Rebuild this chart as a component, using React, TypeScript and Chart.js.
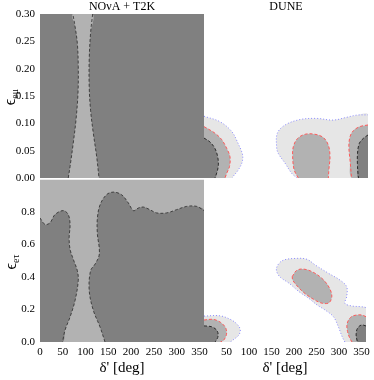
import React, { useEffect, useRef } from "react";
import { Chart, registerables } from "chart.js";

Chart.register(...registerables);

type P = [number, number];

// ---------- axes ----------
const DELTA_MIN = 0;
const DELTA_MAX = 360;
const EMU_MAX = 0.3;
const ETAU_MAX = 1.0;
const X_TICKS_LEFT = [0, 50, 100, 150, 200, 250, 300, 350];
const X_TICKS_RIGHT = [50, 100, 150, 200, 250, 300, 350];
const Y_TICKS_EMU = [0, 0.05, 0.1, 0.15, 0.2, 0.25, 0.3];
const Y_TICKS_ETAU = [0, 0.2, 0.4, 0.6, 0.8];

const TITLE_LEFT = "NOνA + T2K";
const TITLE_RIGHT = "DUNE";
const X_TITLE = "δ' [deg]";

// ---------- NOvA + T2K, eps_emu (delta, eps) ----------
const NT_EMU_BAND_LEFT: P[] = [[62, 0], [66, 0.021], [73, 0.064], [79, 0.106], [83.4, 0.155], [84, 0.204], [82, 0.246], [77, 0.277], [72, 0.3]];
const NT_EMU_BAND_RIGHT: P[] = [[115.6, 0.3], [111, 0.265], [108, 0.216], [108, 0.167], [111, 0.124], [117, 0.082], [124.4, 0.039], [129.5, 0]];

// ---------- NOvA + T2K, eps_etau ----------
const NT_ETAU_DARK_LEFT: P[] = [[0, 0.764], [11, 0.724], [22, 0.734], [33, 0.785], [51, 0.809], [62, 0.785], [66, 0.724], [64, 0.642], [66, 0.571], [73, 0.51], [82, 0.439], [84, 0.378], [77, 0.256], [66, 0.154], [55, 0.073], [49.4, 0]];
const NT_ETAU_DARK_RIGHT: P[] = [[142.7, 0], [131.7, 0.093], [117, 0.195], [108, 0.317], [111, 0.439], [121, 0.48], [129.5, 0.53], [130, 0.581], [126, 0.663], [126, 0.764], [132, 0.846], [146, 0.907], [161, 0.923], [179, 0.907], [194, 0.856], [205, 0.809], [216, 0.825], [227, 0.831], [241, 0.815], [256, 0.795], [278, 0.795], [300, 0.815], [322, 0.835], [344, 0.835], [360, 0.809]];

// ---------- DUNE, eps_emu ----------
const DU_EMU_LIGHT_LEFT: P[] = [[0, 0.113], [35, 0.103], [61, 0.085], [75, 0.063], [84, 0.045], [85, 0.035], [82, 0.025], [73, 0.012], [64, 0.003], [62, 0]];
const DU_EMU_MID_LEFT: P[] = [[0, 0.094], [24, 0.082], [39, 0.07], [50, 0.054], [57, 0.039], [56, 0.021], [50, 0.009], [46, 0]];
const DU_EMU_DARK_LEFT: P[] = [[0, 0.073], [13, 0.066], [24, 0.054], [30, 0.039], [31.5, 0.024], [29, 0.012], [24, 0]];
const DU_EMU_LIGHT_RIGHT: P[] = [[203.5, 0], [192.5, 0.0085], [178, 0.027], [163, 0.045], [159.5, 0.056], [161, 0.082], [178, 0.097], [211, 0.107], [247, 0.109], [284, 0.106], [313, 0.111], [335, 0.115], [360, 0.1155]];
const DU_EMU_MID_CENTER: P[] = [[207, 0], [198, 0.0146], [194.6, 0.039], [196, 0.057], [205, 0.072], [222, 0.08], [243.6, 0.08], [262, 0.074], [273, 0.06], [276.6, 0.039], [274.4, 0.0177], [273, 0]];
const DU_EMU_MID_RIGHT: P[] = [[360, 0.097], [342, 0.094], [328, 0.0866], [320.5, 0.0756], [318, 0.057], [320.5, 0.033], [324, 0]];
const DU_EMU_DARK_RIGHT: P[] = [[360, 0.0787], [350, 0.0726], [341, 0.0635], [337, 0.045], [337, 0.0207], [339, 0]];

// ---------- DUNE, eps_etau ----------
const DU_ETAU_LIGHT_LEFT: P[] = [[0, 0.158], [35, 0.16], [58.5, 0.138], [73, 0.11], [80.5, 0.077], [77.5, 0.043], [64.4, 0.012], [58.5, 0]];
const DU_ETAU_MID_LEFT: P[] = [[0, 0.134], [20.5, 0.138], [36.6, 0.12], [48, 0.087], [50, 0.047], [44, 0.012], [36.6, 0]];
const DU_ETAU_DARK_LEFT: P[] = [[0, 0.098], [17, 0.093], [28, 0.073], [31.5, 0.043], [28, 0.012], [24, 0]];
const DU_ETAU_LIGHT_MAIN: P[] = [[313, 0], [307, 0.032], [298.5, 0.093], [287.6, 0.154], [269, 0.195], [251, 0.226], [233, 0.266], [211, 0.307], [189, 0.358], [167, 0.402], [161, 0.449], [174, 0.496], [207, 0.51], [229, 0.504], [247, 0.47], [276.6, 0.419], [302, 0.378], [317, 0.337], [317, 0.276], [313, 0.236], [328, 0.22], [350, 0.215], [360, 0.21]];
const DU_ETAU_MID_BLOB: P[] = [[196, 0.398], [205, 0.435], [219.5, 0.445], [240, 0.429], [262, 0.388], [278, 0.333], [284, 0.28], [278, 0.24], [263, 0.236], [243.6, 0.26], [222, 0.301], [205, 0.348], [197, 0.378], [196, 0.398]];
const DU_ETAU_MID_RIGHT: P[] = [[360, 0.154], [350, 0.165], [331.5, 0.16], [322, 0.138], [317.5, 0.104], [319, 0.063], [324, 0.0225], [329, 0]];
const DU_ETAU_DARK_RIGHT: P[] = [[360, 0.0976], [350, 0.104], [341, 0.0835], [338, 0.043], [341, 0]];

// ---------- styles ----------
const DARK = "#808080";
const MID = "#b2b2b2";
const LIGHT = "#e6e6e6";
const LINE_DARK = "#2a2a2a";
const LINE_RED = "#ff5a5a";
const LINE_BLUE = "#8a8aff";
const FONT = '"Liberation Serif", "DejaVu Serif", serif';
const TENSION = 0.35;

type Corner = "bl" | "br" | "tl" | "tr";
interface Region {
  curves: P[][];
  corners: Corner[];
  fill: string;
  stroke: string;
  dash: number[];
  width?: number;
}

function buildDatasets(regions: Region[], bg: string | null, yMax: number) {
  const cornerPt = (c: Corner) => ({
    x: c[1] === "l" ? DELTA_MIN : DELTA_MAX,
    y: c[0] === "b" ? 0 : yMax,
  });
  const ds: any[] = [];
  if (bg) {
    ds.push({
      data: (["bl", "br", "tr", "tl"] as Corner[]).map(cornerPt),
      fill: "shape",
      backgroundColor: bg,
      borderColor: "transparent",
      borderWidth: 0,
      pointRadius: 0,
      tension: 0,
    });
  }
  for (const r of regions) {
    const pts: { x: number; y: number }[] = r.curves.flat().map(([x, y]) => ({ x, y }));
    for (const c of r.corners) {
      const p = cornerPt(c);
      pts.push(p, { ...p });
    }
    ds.push({
      data: pts,
      fill: "shape",
      backgroundColor: r.fill,
      borderColor: "transparent",
      borderWidth: 0,
      pointRadius: 0,
      tension: TENSION,
    });
  }
  for (const r of regions) {
    for (const c of r.curves) {
      ds.push({
        data: c.map(([x, y]) => ({ x, y })),
        fill: false,
        borderColor: r.stroke,
        borderWidth: r.width ?? 1,
        borderDash: r.dash,
        pointRadius: 0,
        tension: TENSION,
      });
    }
  }
  return ds.map((d, i, arr) => ({ ...d, order: arr.length - i }));
}

interface PanelSpec {
  regions: Region[];
  bg: string | null;
  yMax: number;
  yTicks: number[] | null;
  yDecimals: number;
  xTicks: number[] | null;
  title: string | null;
  padding: { left: number; right: number; top: number; bottom: number };
}

function makeConfig(s: PanelSpec): any {
  const tickFont = { family: FONT, size: 11 };
  return {
    type: "line",
    data: { datasets: buildDatasets(s.regions, s.bg, s.yMax) },
    options: {
      animation: false,
      responsive: false,
      maintainAspectRatio: false,
      devicePixelRatio: 1,
      layout: { padding: s.padding },
      plugins: {
        legend: { display: false },
        tooltip: { enabled: false },
        title: {
          display: !!s.title,
          text: s.title ?? "",
          fullSize: false,
          color: "#000",
          font: { family: FONT, size: 12, lineHeight: 1, weight: "normal" },
          padding: { top: 1, bottom: 1 },
        },
      },
      scales: {
        x: {
          type: "linear",
          min: DELTA_MIN,
          max: DELTA_MAX,
          display: !!s.xTicks,
          grid: { display: false, drawTicks: false },
          border: { display: false },
          ticks: { font: tickFont, color: "#000", padding: 4, maxRotation: 0, autoSkip: false },
          afterBuildTicks: (axis: any) => {
            axis.ticks = (s.xTicks ?? []).map((v) => ({ value: v }));
          },
          afterFit: (axis: any) => {
            axis.height = s.xTicks ? 38 : 0;
          },
          title: {
            display: !!s.xTicks,
            text: X_TITLE,
            color: "#000",
            font: { family: FONT, size: 15 },
            padding: { top: 0, bottom: 3 },
          },
        },
        y: {
          type: "linear",
          position: "left",
          min: 0,
          max: s.yMax,
          display: !!s.yTicks,
          grid: { display: false, drawTicks: false },
          border: { display: false },
          ticks: {
            font: tickFont,
            color: "#000",
            padding: 5,
            autoSkip: false,
            callback: (v: any) => Number(v).toFixed(s.yDecimals),
          },
          afterBuildTicks: (axis: any) => {
            axis.ticks = (s.yTicks ?? []).map((v) => ({ value: v }));
          },
          afterFit: (axis: any) => {
            axis.width = s.yTicks ? 40 : 0;
          },
        },
      },
    },
  };
}

function Panel(props: { spec: PanelSpec; left: number; top: number; width: number; height: number }) {
  const ref = useRef<HTMLCanvasElement>(null);
  useEffect(() => {
    const chart = new Chart(ref.current!, makeConfig(props.spec));
    return () => chart.destroy();
  }, []);
  return (
    <canvas
      ref={ref}
      width={props.width}
      height={props.height}
      style={{
        position: "absolute",
        left: props.left,
        top: props.top,
        width: props.width,
        height: props.height,
        display: "block",
      }}
    />
  );
}

const blackDash = [3, 2];
const redDash = [3, 2];
const blueDot = [1, 2];

const TL: PanelSpec = {
  regions: [
    { curves: [NT_EMU_BAND_LEFT, NT_EMU_BAND_RIGHT], corners: [], fill: MID, stroke: LINE_DARK, dash: blackDash, width: 0.8 },
  ],
  bg: DARK,
  yMax: EMU_MAX,
  yTicks: Y_TICKS_EMU,
  yDecimals: 2,
  xTicks: null,
  title: TITLE_LEFT,
  padding: { left: 0, right: 10, top: 0, bottom: 12 },
};

const BL: PanelSpec = {
  regions: [
    { curves: [NT_ETAU_DARK_LEFT], corners: ["bl"], fill: DARK, stroke: LINE_DARK, dash: blackDash, width: 0.8 },
    { curves: [NT_ETAU_DARK_RIGHT], corners: ["br"], fill: DARK, stroke: LINE_DARK, dash: blackDash, width: 0.8 },
  ],
  bg: MID,
  yMax: ETAU_MAX,
  yTicks: Y_TICKS_ETAU,
  yDecimals: 1,
  xTicks: X_TICKS_LEFT,
  title: null,
  padding: { left: 0, right: 10, top: 10, bottom: 0 },
};

const TR: PanelSpec = {
  regions: [
    { curves: [DU_EMU_LIGHT_LEFT], corners: ["bl"], fill: LIGHT, stroke: LINE_BLUE, dash: blueDot },
    { curves: [DU_EMU_LIGHT_RIGHT], corners: ["br"], fill: LIGHT, stroke: LINE_BLUE, dash: blueDot },
    { curves: [DU_EMU_MID_LEFT], corners: ["bl"], fill: MID, stroke: LINE_RED, dash: redDash },
    { curves: [DU_EMU_MID_CENTER], corners: [], fill: MID, stroke: LINE_RED, dash: redDash },
    { curves: [DU_EMU_MID_RIGHT], corners: ["br"], fill: MID, stroke: LINE_RED, dash: redDash },
    { curves: [DU_EMU_DARK_LEFT], corners: ["bl"], fill: DARK, stroke: LINE_DARK, dash: blackDash },
    { curves: [DU_EMU_DARK_RIGHT], corners: ["br"], fill: DARK, stroke: LINE_DARK, dash: blackDash },
  ],
  bg: null,
  yMax: EMU_MAX,
  yTicks: null,
  yDecimals: 2,
  xTicks: null,
  title: TITLE_RIGHT,
  padding: { left: 10, right: 6, top: 0, bottom: 12 },
};

const BR: PanelSpec = {
  regions: [
    { curves: [DU_ETAU_LIGHT_LEFT], corners: ["bl"], fill: LIGHT, stroke: LINE_BLUE, dash: blueDot },
    { curves: [DU_ETAU_LIGHT_MAIN], corners: ["br"], fill: LIGHT, stroke: LINE_BLUE, dash: blueDot },
    { curves: [DU_ETAU_MID_LEFT], corners: ["bl"], fill: MID, stroke: LINE_RED, dash: redDash },
    { curves: [DU_ETAU_MID_BLOB], corners: [], fill: MID, stroke: LINE_RED, dash: redDash },
    { curves: [DU_ETAU_MID_RIGHT], corners: ["br"], fill: MID, stroke: LINE_RED, dash: redDash },
    { curves: [DU_ETAU_DARK_LEFT], corners: ["bl"], fill: DARK, stroke: LINE_DARK, dash: blackDash },
    { curves: [DU_ETAU_DARK_RIGHT], corners: ["br"], fill: DARK, stroke: LINE_DARK, dash: blackDash },
  ],
  bg: null,
  yMax: ETAU_MAX,
  yTicks: null,
  yDecimals: 1,
  xTicks: X_TICKS_RIGHT,
  title: null,
  padding: { left: 10, right: 6, top: 10, bottom: 0 },
};

function YTitle(props: { sub: string; cx: number; cy: number }) {
  return (
    <div
      style={{
        position: "absolute",
        left: props.cx,
        top: props.cy,
        transform: "translate(-50%, -50%) rotate(-90deg)",
        fontFamily: FONT,
        fontSize: 16,
        lineHeight: "16px",
        whiteSpace: "nowrap",
        color: "#000",
      }}
    >
      ϵ<sub style={{ fontSize: 10, verticalAlign: "-3px", lineHeight: "10px" }}>{props.sub}</sub>
    </div>
  );
}

export default function App() {
  return (
    <div style={{ position: "absolute", left: 0, top: 0, width: 374, height: 380, background: "#fff", overflow: "hidden" }}>
      <Panel spec={BL} left={0} top={168} width={214} height={212} />
      <Panel spec={BR} left={194} top={168} width={180} height={212} />
      <Panel spec={TL} left={0} top={0} width={214} height={190} />
      <Panel spec={TR} left={194} top={0} width={180} height={190} />
      <YTitle sub="eμ" cx={11} cy={97} />
      <YTitle sub="eτ" cx={12} cy={262} />
    </div>
  );
}
